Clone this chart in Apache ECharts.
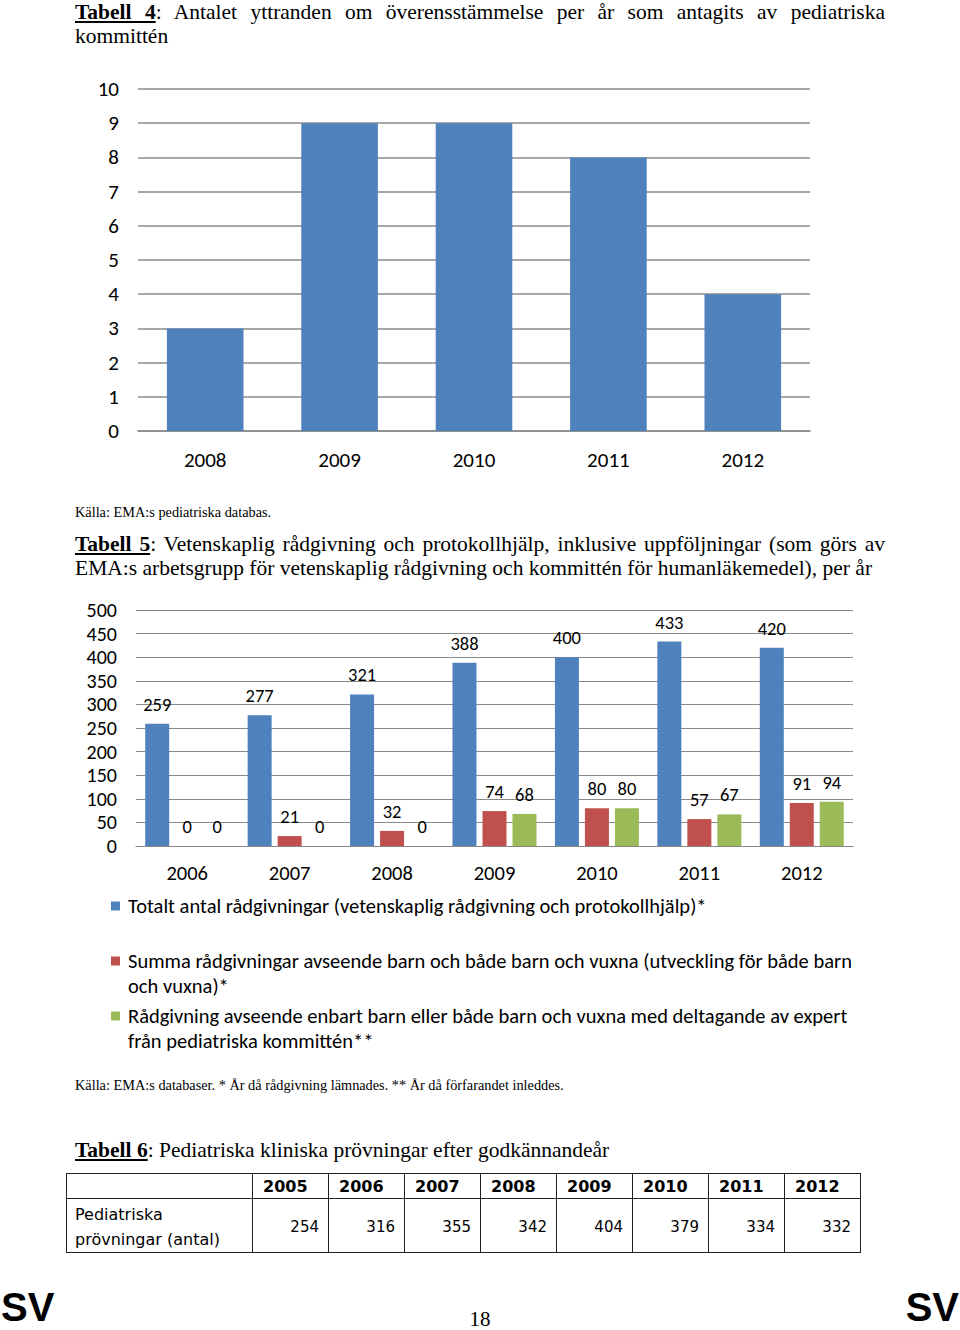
<!DOCTYPE html>
<html>
<head>
<meta charset="utf-8">
<script src="https://cdn.jsdelivr.net/npm/echarts@6/dist/echarts.min.js"></script>
<style>
html,body{margin:0;padding:0;background:#fff;}
#page{position:relative;width:960px;height:1330px;overflow:hidden;background:#fff;}
#chart{position:absolute;left:0;top:0;width:960px;height:1330px;}
.t{position:absolute;font-family:"Liberation Serif","Times New Roman",serif;color:#000;}
.h{left:75px;width:810px;font-size:21.5px;line-height:24px;white-space:nowrap;}
.j{text-align:justify;text-align-last:justify;white-space:normal;}
.src{left:75px;font-size:14.3px;line-height:16px;white-space:nowrap;}
.sv{position:absolute;font-family:"Liberation Sans",Arial,sans-serif;font-weight:bold;font-size:40px;line-height:30px;color:#000;}
#tbl{position:absolute;left:66px;top:1173px;border-collapse:collapse;font-family:"DejaVu Sans",Verdana,sans-serif;color:#000;}
#tbl td,#tbl th{border:1.5px solid #222;padding:0;}
#tbl th{font-size:16px;font-weight:bold;height:25px;text-align:left;padding-left:10px;box-sizing:border-box;}
#tbl td{font-size:15px;height:48px;padding-top:3px;box-sizing:border-box;}
#tbl td.lab{text-align:left;padding-left:8px;line-height:25px;font-size:16px;}
#tbl td.num{text-align:right;padding-right:9px;}
</style>
</head>
<body>
<div id="page">
  <div id="chart"></div>
  <div class="t h j" style="top:0px;"><b><u>Tabell 4</u></b>: Antalet yttranden om överensstämmelse per år som antagits av pediatriska</div>
  <div class="t h" style="top:24px;">kommittén</div>
  <div class="t src" style="top:504px;">Källa: EMA:s pediatriska databas.</div>
  <div class="t h j" style="top:532px;"><b><u>Tabell 5</u></b>: Vetenskaplig rådgivning och protokollhjälp, inklusive uppföljningar (som görs av</div>
  <div class="t h" style="top:556px;">EMA:s arbetsgrupp för vetenskaplig rådgivning och kommittén för humanläkemedel), per år</div>
  <div class="t src" style="top:1077px;">Källa: EMA:s databaser. * År då rådgivning lämnades. ** År då förfarandet inleddes.</div>
  <div class="t h" style="top:1138px;"><b><u>Tabell 6</u></b>: Pediatriska kliniska prövningar efter godkännandeår</div>
  <table id="tbl"></table>
  <div class="sv" style="left:1px;top:1292px;">SV</div>
  <div class="sv" style="right:1px;top:1292px;">SV</div>
  <div class="t" style="left:0;width:960px;text-align:center;top:1310px;font-size:21px;line-height:18px;">18</div>
</div>
<script>
// ---- Data ----
const years4 = ['2008', '2009', '2010', '2011', '2012'];
const opinions4 = [3, 9, 9, 8, 4];

const years5 = ['2006', '2007', '2008', '2009', '2010', '2011', '2012'];
const totalAdvice5 = [259, 277, 321, 388, 400, 433, 420];
const childAdvice5 = [0, 21, 32, 74, 80, 57, 91];
const pdcoAdvice5 = [0, 0, 0, 68, 80, 67, 94];
const seriesNames5 = [
  'Totalt antal rådgivningar (vetenskaplig rådgivning och protokollhjälp)*',
  'Summa rådgivningar avseende barn och både barn och vuxna (utveckling för både barn och vuxna)*',
  'Rådgivning avseende enbart barn eller både barn och vuxna med deltagande av expert från pediatriska kommittén**'
];
const legendSecondLines5 = ['', 'och vuxna)*', 'från pediatriska kommittén**'];

const years6 = ['2005', '2006', '2007', '2008', '2009', '2010', '2011', '2012'];
const trials6 = [254, 316, 355, 342, 404, 379, 334, 332];
const rowLabel6 = 'Pediatriska<br>prövningar (antal)';

// ---- Table 6 ----
(function () {
  const tbl = document.getElementById('tbl');
  let head = '<tr><th style="width:186px"></th>';
  years6.forEach(y => { head += '<th style="width:76px">' + y + '</th>'; });
  head += '</tr>';
  let row = '<tr><td class="lab">' + rowLabel6 + '</td>';
  trials6.forEach(v => { row += '<td class="num">' + v + '</td>'; });
  row += '</tr>';
  tbl.innerHTML = head + row;
})();

// ---- Charts ----
const FONT = 'Carlito, Lato, sans-serif';
const GRID_LINE = '#8a8a8a';
const COLORS = ['#4F81BD', '#C0504D', '#9BBB59'];

const chart = echarts.init(document.getElementById('chart'), null, { renderer: 'svg' });

// Wrapped legend text; a blank leading line keeps the marker beside the first line.
function legendFormatter(name) {
  const i = seriesNames5.indexOf(name);
  const tail = legendSecondLines5[i];
  if (!tail) return name;
  const k = name.lastIndexOf(tail);
  return ' \n' + name.slice(0, k).trim() + '\n' + name.slice(k);
}

const legendTops = [893.5, 923.5, 978.5];

const option = {
  animation: false,
  backgroundColor: 'transparent',
  textStyle: { fontFamily: FONT },
  grid: [
    { left: 138, top: 89, width: 672, height: 342, outerBoundsMode: 'none', containLabel: false },
    { left: 136, top: 610, width: 717, height: 236, outerBoundsMode: 'none', containLabel: false }
  ],
  xAxis: [
    {
      type: 'category', gridIndex: 0, data: years4,
      axisTick: { show: false },
      axisLine: { show: true, lineStyle: { color: GRID_LINE, width: 1.5 } },
      axisLabel: { fontFamily: FONT, fontSize: 21, color: '#000', margin: 18 },
      splitLine: { show: false }
    },
    {
      type: 'category', gridIndex: 1, data: years5,
      axisTick: { show: false },
      axisLine: { show: true, lineStyle: { color: GRID_LINE, width: 1.2 } },
      axisLabel: { fontFamily: FONT, fontSize: 20.5, color: '#000', margin: 16 },
      splitLine: { show: false }
    }
  ],
  yAxis: [
    {
      type: 'value', gridIndex: 0, min: 0, max: 10, interval: 1,
      axisLine: { show: false }, axisTick: { show: false },
      axisLabel: { fontFamily: FONT, fontSize: 21, color: '#000', margin: 19 },
      splitLine: { show: true, lineStyle: { color: GRID_LINE, width: 1.5 } }
    },
    {
      type: 'value', gridIndex: 1, min: 0, max: 500, interval: 50,
      axisLine: { show: false }, axisTick: { show: false },
      axisLabel: { fontFamily: FONT, fontSize: 20, color: '#000', margin: 19 },
      splitLine: { show: true, lineStyle: { color: GRID_LINE, width: 1.2 } }
    }
  ],
  legend: seriesNames5.map((n, i) => ({
    data: [n],
    left: 111,
    top: legendTops[i],
    orient: 'vertical',
    padding: 0,
    itemWidth: 9,
    itemHeight: 9,
    icon: 'rect',
    selectedMode: false,
    formatter: legendFormatter,
    textStyle: {
      fontFamily: FONT, fontSize: 20.5, color: '#000', lineHeight: 25,
      padding: [0, 0, 0, 3]
    }
  })),
  series: [
    {
      name: 'Antal yttranden', type: 'bar', xAxisIndex: 0, yAxisIndex: 0,
      data: opinions4, barCategoryGap: '43%',
      itemStyle: { color: COLORS[0] }
    },
    ...[totalAdvice5, childAdvice5, pdcoAdvice5].map((d, i) => ({
      name: seriesNames5[i], type: 'bar', xAxisIndex: 1, yAxisIndex: 1,
      data: d, barGap: '25%', barCategoryGap: '18%',
      itemStyle: { color: COLORS[i] },
      label: { show: true, position: 'top', distance: 10, fontFamily: FONT, fontSize: 18.5, color: '#000' }
    }))
  ]
};
chart.setOption(option);
</script>
</body>
</html>
